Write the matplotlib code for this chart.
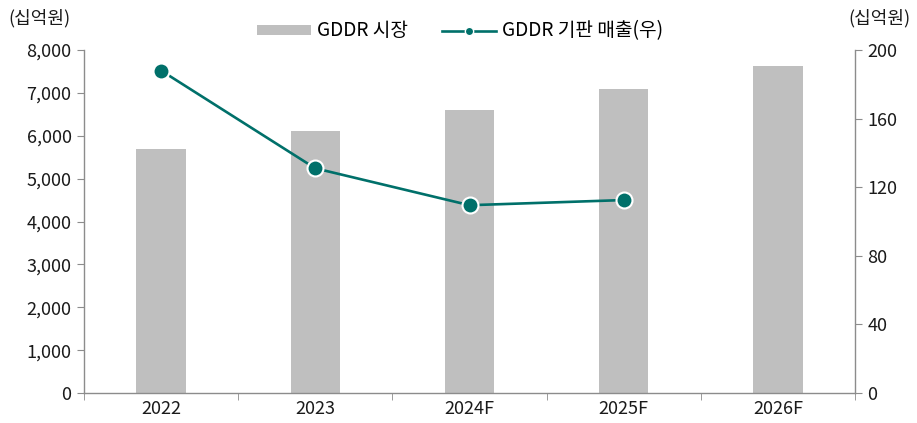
import matplotlib
matplotlib.use("Agg")
import matplotlib.pyplot as plt
from matplotlib.patches import Patch
from matplotlib.lines import Line2D
from matplotlib.ticker import FuncFormatter, FixedLocator

plt.rcParams['font.family'] = ['Noto Sans CJK KR', 'DejaVu Sans']

categories = ['2022', '2023', '2024F', '2025F', '2026F']
market = [5680, 6110, 6600, 7090, 7620]
substrate = [188, 131, 109.5, 112.5]
left_ticks = [0, 1000, 2000, 3000, 4000, 5000, 6000, 7000, 8000]
right_ticks = [0, 40, 80, 120, 160, 200]
bar_label = 'GDDR 시장'
line_label = 'GDDR 기판 매출(우)'
unit = '(십억원)'

bar_color = '#BFBFBF'
line_color = '#00706A'
spine_color = '#8C8C8C'
text_color = '#1A1A1A'
fs = 13

fig = plt.figure(figsize=(9.17, 4.23), dpi=100)
ax = fig.add_axes([84/917, 30/423, (855-84)/917, (393-50)/423])
x = list(range(len(categories)))
ax.bar(x, market, width=0.32, color=bar_color, zorder=2)
ax.set_xlim(-0.5, len(categories)-0.5)
ax.set_ylim(0, 8000)
ax.set_yticks(left_ticks)
ax.yaxis.set_major_formatter(FuncFormatter(lambda v, p: f'{int(v):,}'))
ax.set_xticks(x)
ax.set_xticklabels(categories)
ax.xaxis.set_minor_locator(FixedLocator([i - 0.5 for i in range(len(categories)+1)]))
ax.tick_params(axis='x', which='major', length=0, pad=5, labelsize=fs, colors=text_color)
ax.tick_params(axis='x', which='minor', length=5, color=spine_color, direction='out')
ax.tick_params(axis='y', length=5, color=spine_color, labelsize=fs, labelcolor=text_color, pad=4)
for s in ['top', 'right']:
    ax.spines[s].set_visible(False)
for s in ['left', 'bottom']:
    ax.spines[s].set_color(spine_color)
    ax.spines[s].set_linewidth(1.0)

ax2 = ax.twinx()
ax2.set_ylim(0, 200)
ax2.set_yticks(right_ticks)
ax2.plot(x[:len(substrate)], substrate, color=line_color, lw=1.9, marker='o',
         markersize=11.5, markerfacecolor=line_color, markeredgecolor='white',
         markeredgewidth=1.5, zorder=3)
for s in ['top', 'left', 'bottom']:
    ax2.spines[s].set_visible(False)
ax2.spines['right'].set_color(spine_color)
ax2.spines['right'].set_linewidth(1.0)
ax2.tick_params(axis='y', length=5, color=spine_color, labelsize=fs, labelcolor=text_color, pad=4)

fig.text(8/917, 1 - 18/423, unit, fontsize=fs, va='center', ha='left', color=text_color)
fig.text(910/917, 1 - 18/423, unit, fontsize=fs, va='center', ha='right', color=text_color)

handles = [Patch(facecolor=bar_color, edgecolor='none', label=bar_label),
           Line2D([0], [0], color=line_color, lw=1.9, marker='o', markersize=6,
                  markerfacecolor=line_color, markeredgecolor='white', label=line_label)]
fig.legend(handles=handles, loc='center', bbox_to_anchor=(460/917, 1 - 31/423), ncol=2,
           frameon=False, fontsize=13.8, handlelength=2.8, handletextpad=0.3,
           columnspacing=1.8, handleheight=0.45)

fig.savefig('out.png', dpi=100)
